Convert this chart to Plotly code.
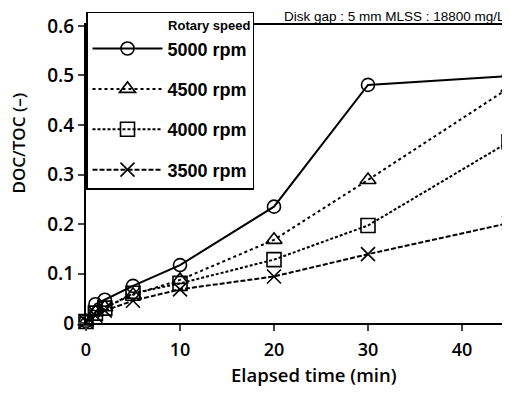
import plotly.graph_objects as go

time_min = [0, 1, 2, 5, 10, 20, 30, 45]
series_names = ["5000 rpm", "4500 rpm", "4000 rpm", "3500 rpm"]
doc_5000 = [0.004, 0.038, 0.047, 0.075, 0.117, 0.235, 0.481, 0.499]
doc_4500 = [0.003, 0.022, 0.032, 0.057, 0.087, 0.168, 0.289, 0.475]
doc_4000 = [0.003, 0.020, 0.030, 0.060, 0.080, 0.128, 0.197, 0.366]
doc_3500 = [0.003, 0.015, 0.025, 0.045, 0.068, 0.094, 0.139, 0.202]
x_ticks = [0, 10, 20, 30, 40]
y_ticks = [0, 0.1, 0.2, 0.3, 0.4, 0.5, 0.6]
y_tick_labels = ["0", "0.1", "0.2", "0.3", "0.4", "0.5", "0.6"]

series_values = [doc_5000, doc_4500, doc_4000, doc_3500]
symbols = ["circle-open", "triangle-up-open", "square-open", "x-thin-open"]
dashes = ["solid", "dot", "3px,2px", "5px,2px"]
sizes = [13, 14, 14, 14]

fig = go.Figure()
for i, (name, vals) in enumerate(zip(series_names, series_values)):
    fig.add_trace(go.Scatter(
        x=time_min, y=vals, name=name, mode="lines+markers",
        legendgroup=f"g{i}",
        line=dict(color="black", width=2, dash=dashes[i]),
        marker=dict(symbol=symbols[i], size=sizes[i], color="black",
                    line=dict(color="black", width=1.6)),
        cliponaxis=False,
    ))

# the page body has an 8px default margin, so positions are laid out 8px up/left
fig.update_layout(
    width=510, height=395,
    margin=dict(l=78, r=9, t=17, b=80, autoexpand=False),
    plot_bgcolor="white", paper_bgcolor="white",
    showlegend=True,
    legend=dict(
        x=0, y=1.044, xanchor="left", yanchor="top",
        bordercolor="black", borderwidth=1.5, bgcolor="white",
        font=dict(family="Liberation Sans", size=18, color="black", weight="bold"),
        title=dict(text="Rotary speed", side="top right",
                   font=dict(family="Liberation Sans", size=13, color="black", weight="bold")),
        tracegroupgap=14, itemwidth=70,
    ),
    xaxis=dict(
        range=[0, 45], tickvals=x_ticks, ticks="outside", ticklen=6, tickwidth=2,
        showline=True, linewidth=2, linecolor="black", mirror=True,
        showgrid=False, zeroline=False, ticklabelstandoff=3,
        tickfont=dict(family="Open Sans", size=18, color="black", weight=600),
    ),
    yaxis=dict(
        range=[0, 0.602], tickvals=y_ticks, ticktext=y_tick_labels,
        ticks="outside", ticklen=6, tickwidth=2,
        showline=True, linewidth=2, linecolor="black", mirror=True,
        showgrid=False, zeroline=False,
        tickfont=dict(family="Open Sans", size=19, color="black", weight=600),
    ),
    annotations=[
        dict(text="Disk gap : 5 mm MLSS : 18800 mg/L", xref="paper", yref="paper",
             x=1.0, xshift=-2, y=1.0, xanchor="right", yanchor="top", yshift=18,
             showarrow=False,
             font=dict(family="Liberation Sans", size=13.5, color="black")),
        dict(text="Elapsed time (min)", xref="paper", yref="paper",
             x=0.538, y=0, yshift=-51, xanchor="center", yanchor="middle",
             showarrow=False,
             font=dict(family="Open Sans", size=18.5, color="black", weight=600)),
        dict(text="DOC/TOC (–)", xref="paper", yref="paper",
             x=0, xshift=-67.5, y=0.604, xanchor="center", yanchor="middle",
             textangle=-90, showarrow=False,
             font=dict(family="Open Sans", size=17, color="black", weight=600)),
    ],
)

fig.write_html("out.html")
